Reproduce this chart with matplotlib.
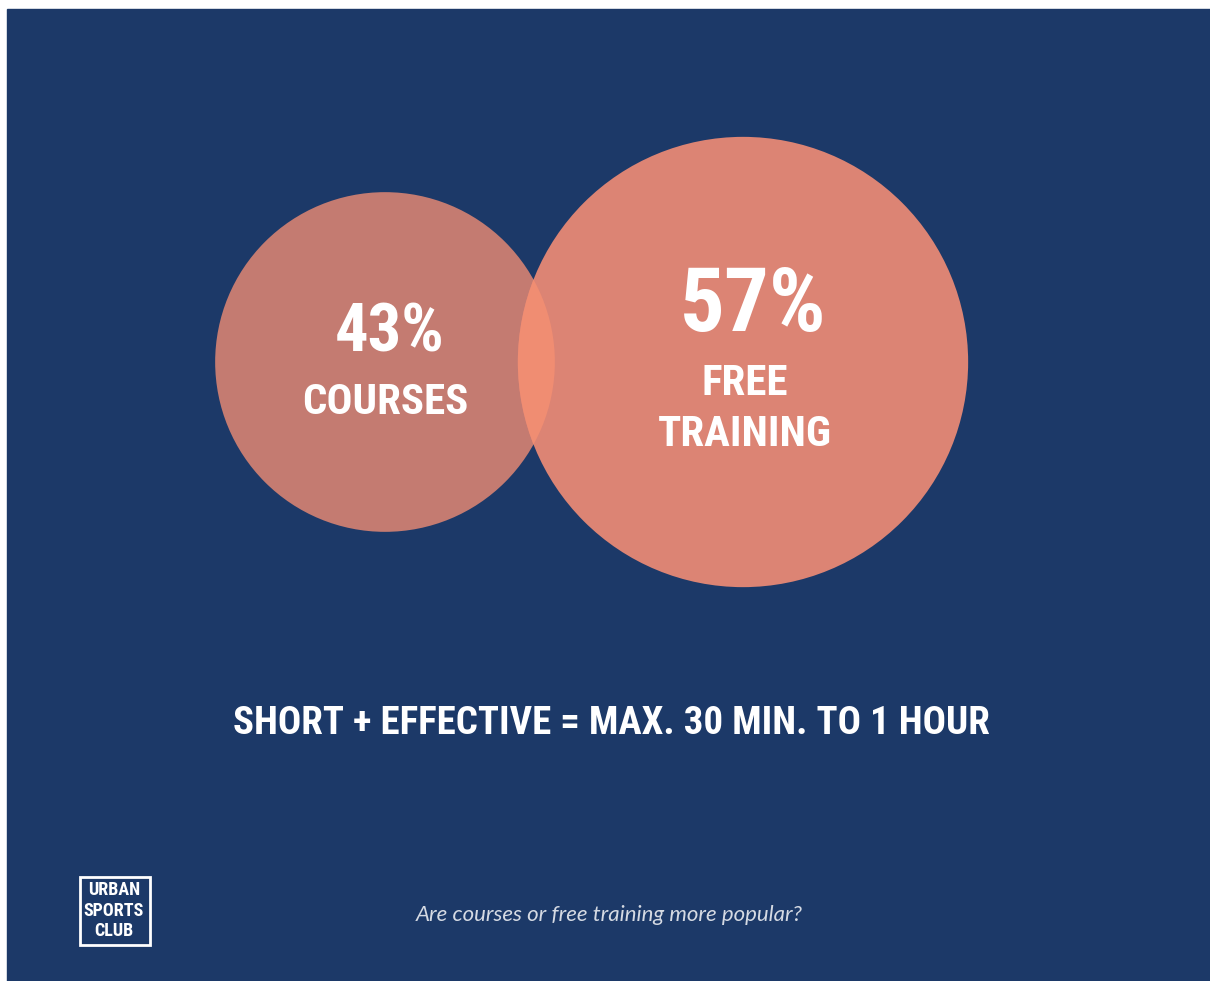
import matplotlib.pyplot as plt
from matplotlib.patches import Circle, Rectangle
from matplotlib import font_manager

shares = [43, 57]
labels = ["COURSES", "FREE\nTRAINING"]
headline = "SHORT + EFFECTIVE = MAX. 30 MIN. TO 1 HOUR"
subtitle = "Are courses or free training more popular?"
logo_lines = ["URBAN", "SPORTS", "CLUB"]

navy = "#1c3968"
circle_colors = ["#c47b71", "#dc8474"]
overlap_color = "#f08d72"

# pick a narrow font if there is one
names = set(f.name for f in font_manager.fontManager.ttflist)
cond = [n for n in ["Liberation Sans Narrow", "Roboto Condensed", "Open Sans Condensed", "DejaVu Sans"] if n in names]
cond_font = [cond[0], "DejaVu Sans"]

fig = plt.figure(figsize=(12.1, 9.81), dpi=100)
ax = fig.add_axes([0, 0, 1, 1])
ax.set_xlim(0, 1210)
ax.set_ylim(981, 0)
ax.set_aspect("equal")
ax.axis("off")
fig.patch.set_facecolor("white")

ax.add_patch(Rectangle((7, 9), 1203, 972, color=navy, zorder=0))

# circle radius proportional to share
scale = 3.95
centers = [(385, 362), (743, 362)]
circles = []
for (cx, cy), v, c in zip(centers, shares, circle_colors):
    circ = Circle((cx, cy), v * scale, color=c, lw=0, zorder=1)
    ax.add_patch(circ)
    circles.append(circ)

# overlap = small circle clipped to the big one
lens = Circle(centers[0], shares[0] * scale, color=overlap_color, lw=0, zorder=2)
ax.add_patch(lens)
lens.set_clip_path(circles[1])

# labels inside circles
ax.text(390, 333, f"{shares[0]}%", color="white", fontsize=48, fontweight="bold",
        family=cond_font, ha="center", va="center", zorder=3)
ax.text(385, 403, labels[0], color="white", fontsize=31, fontweight="bold",
        family=cond_font, ha="center", va="center", zorder=3)
ax.text(753, 306, f"{shares[1]}%", color="white", fontsize=64, fontweight="bold",
        family=cond_font, ha="center", va="center", zorder=3)
ax.text(745, 409, labels[1], color="white", fontsize=31, fontweight="bold",
        family=cond_font, ha="center", va="center", linespacing=1.3, zorder=3)

ax.text(611, 724, headline, color="white", fontsize=28, fontweight="bold",
        family=cond_font, ha="center", va="center", zorder=3)

ax.text(609, 915, subtitle, color="#d5dae3", fontsize=16, style="italic",
        family=["Lato", "DejaVu Sans"], ha="center", va="center", zorder=3)

# logo
ax.add_patch(Rectangle((80, 877), 70, 68, fill=False, ec="white", lw=2, zorder=3))
for i, w in enumerate(logo_lines):
    ax.text(114, 890 + i * 20.5, w, color="white", fontsize=13, fontweight="bold",
            family=cond_font, ha="center", va="center", zorder=3)

fig.savefig("out.png", dpi=100)
